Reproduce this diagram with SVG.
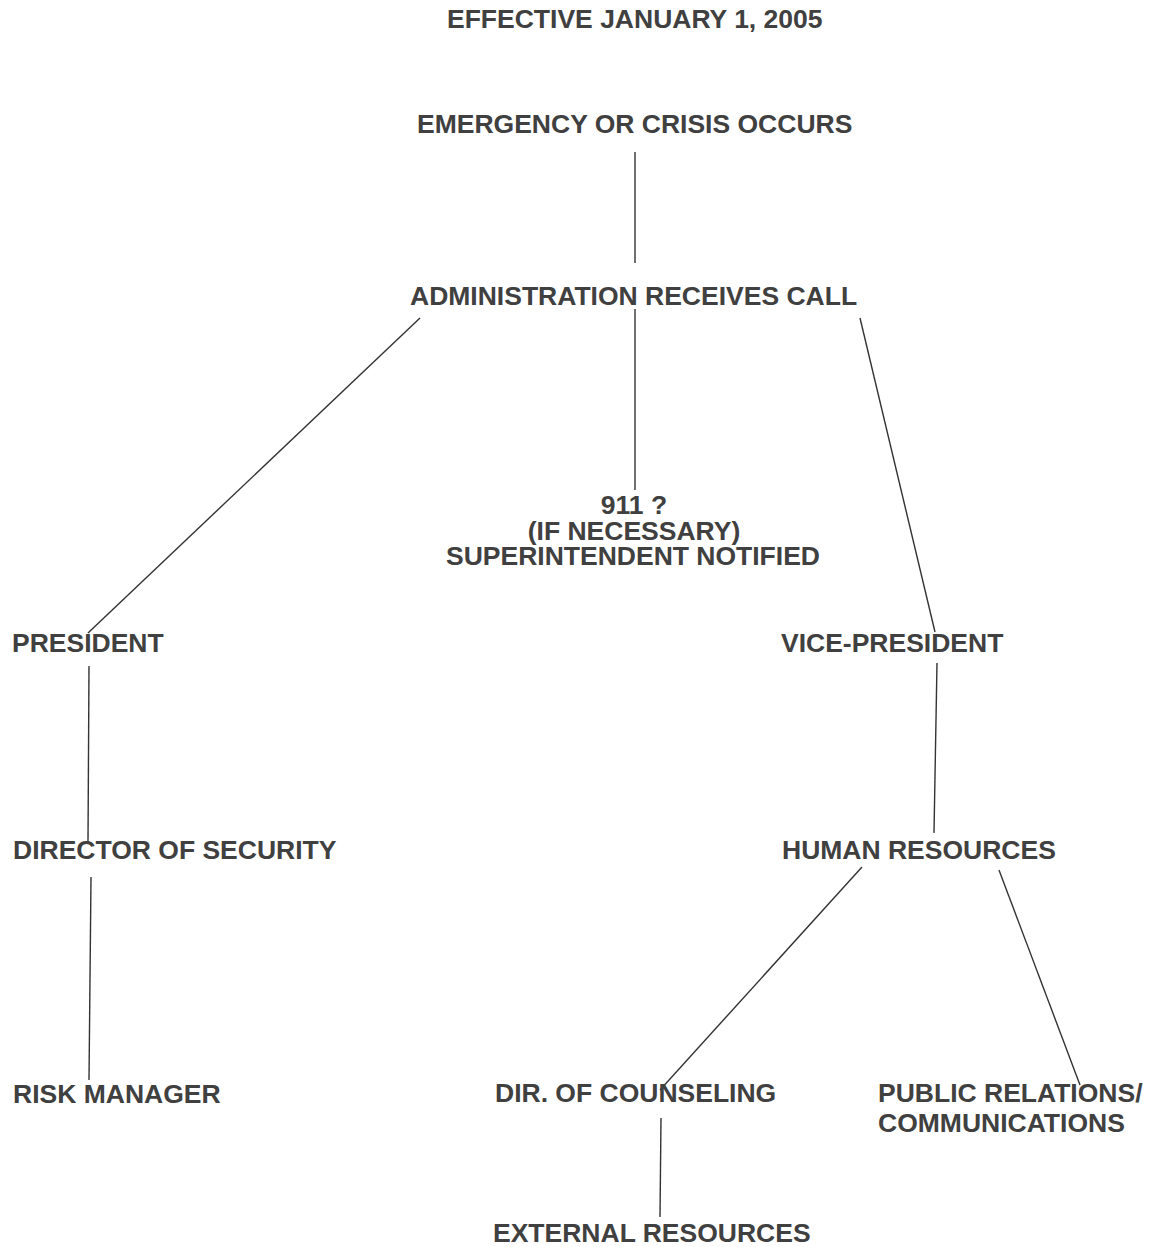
<svg xmlns="http://www.w3.org/2000/svg" width="1149" height="1247" viewBox="0 0 1149 1247">
  <style>
    .lbl { font-family: "Liberation Sans", Arial, sans-serif; font-weight: bold; font-size: 26.5px; fill: #404040; }
    .mid { text-anchor: middle; }
    .conn line { stroke: #333333; stroke-width: 1.4; fill: none; }
  </style>
  <rect width="1149" height="1247" fill="#ffffff"/>

  <g id="title"><text class="lbl" x="447" y="28">EFFECTIVE JANUARY 1, 2005</text></g>

  <!-- connectors -->
  <g class="conn" id="connectors">
    <line x1="635" y1="152" x2="635" y2="263"/>
    <line x1="420" y1="318" x2="88" y2="633"/>
    <line x1="635" y1="309" x2="635" y2="490"/>
    <line x1="860" y1="318" x2="935" y2="632"/>
    <line x1="89" y1="666" x2="88" y2="843"/>
    <line x1="91" y1="877" x2="89" y2="1080"/>
    <line x1="937" y1="663" x2="934" y2="833"/>
    <line x1="862" y1="867" x2="660" y2="1090"/>
    <line x1="999" y1="870" x2="1080" y2="1085"/>
    <line x1="661" y1="1118" x2="660" y2="1217"/>
  </g>

  <!-- nodes -->
  <g id="emergency"><text class="lbl" x="417" y="133">EMERGENCY OR CRISIS OCCURS</text></g>
  <g id="administration"><text class="lbl" x="410" y="305">ADMINISTRATION RECEIVES CALL</text></g>
  <g id="call-911">
    <text class="lbl mid" x="634" y="514">911 ?</text>
    <text class="lbl mid" x="634" y="540">(IF NECESSARY)</text>
    <text class="lbl mid" x="633" y="565">SUPERINTENDENT NOTIFIED</text>
  </g>
  <g id="president"><text class="lbl" x="12" y="652">PRESIDENT</text></g>
  <g id="vice-president"><text class="lbl" x="781" y="652">VICE-PRESIDENT</text></g>
  <g id="director-security"><text class="lbl" x="13" y="859">DIRECTOR OF SECURITY</text></g>
  <g id="human-resources"><text class="lbl" x="782" y="859">HUMAN RESOURCES</text></g>
  <g id="risk-manager"><text class="lbl" x="13" y="1103">RISK MANAGER</text></g>
  <g id="dir-counseling"><text class="lbl" x="495" y="1102">DIR. OF COUNSELING</text></g>
  <g id="public-relations">
    <text class="lbl" x="878" y="1102">PUBLIC RELATIONS/</text>
    <text class="lbl" x="878" y="1132">COMMUNICATIONS</text>
  </g>
  <g id="external-resources"><text class="lbl" x="493" y="1242">EXTERNAL RESOURCES</text></g>
</svg>
